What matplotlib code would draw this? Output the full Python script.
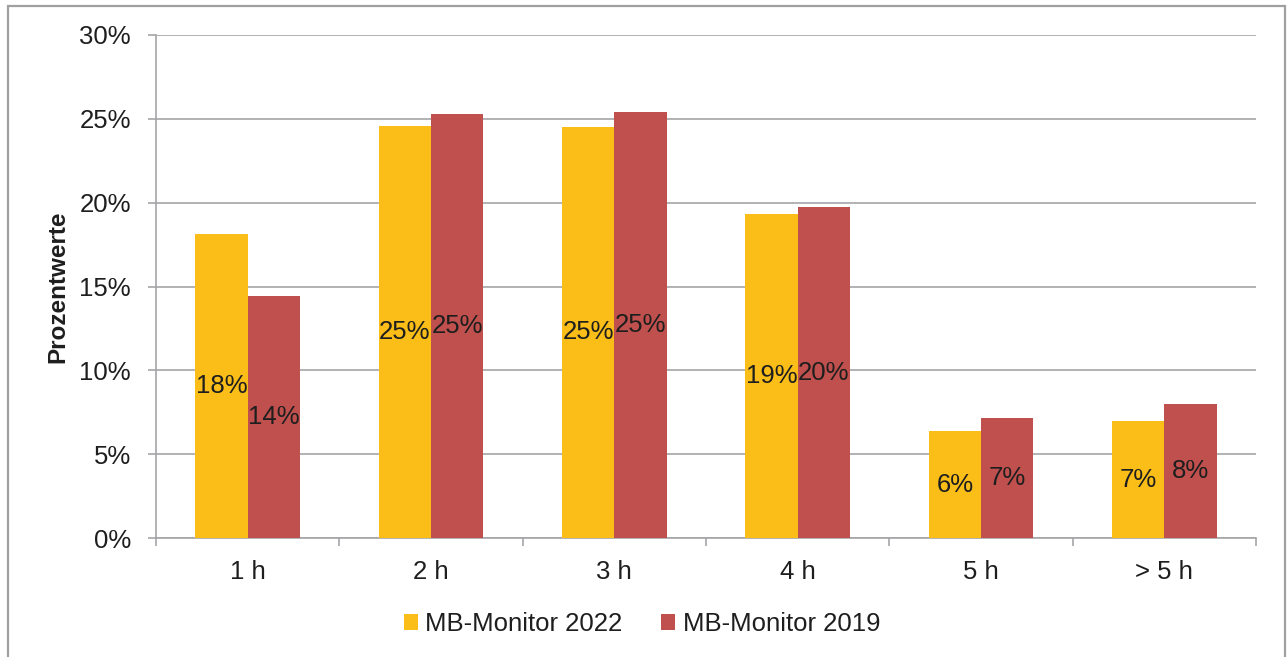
import matplotlib
matplotlib.use("Agg")
import matplotlib.pyplot as plt
from matplotlib.patches import Rectangle
import numpy as np

plt.rcParams["font.family"] = ["Liberation Sans", "DejaVu Sans"]

categories = ["1 h", "2 h", "3 h", "4 h", "5 h", "> 5 h"]
series_names = ["MB-Monitor 2022", "MB-Monitor 2019"]
values_2022 = [18.13, 24.58, 24.53, 19.32, 6.38, 6.95]
values_2019 = [14.43, 25.28, 25.39, 19.74, 7.15, 7.99]
y_ticks = [0, 5, 10, 15, 20, 25, 30]

color_2022 = "#FBBE18"
color_2019 = "#C0504D"
grid_color = "#A5A5A8"
text_color = "#1E1E1E"

W, H = 1288, 657
fig = plt.figure(figsize=(W / 100, H / 100), dpi=100)

# outer frame
fig.patches.append(Rectangle((7.5 / W, -0.05), (1285 - 7.5) / W, 1.05 - 6 / H,
                             transform=fig.transFigure, fill=False,
                             edgecolor="#A0A0A0", linewidth=1.6))

ax = fig.add_axes([156 / W, (H - 538) / H, 1100 / W, (538 - 35) / H])

x = np.arange(len(categories))
bw = 0.285
b1 = ax.bar(x - bw / 2, values_2022, width=bw, color=color_2022, zorder=3,
            label=series_names[0])
b2 = ax.bar(x + bw / 2, values_2019, width=bw, color=color_2019, zorder=3,
            label=series_names[1])

for xs, vals in ((x - bw / 2, values_2022), (x + bw / 2, values_2019)):
    for xi, v in zip(xs, vals):
        ax.text(xi, v / 2, f"{round(v):.0f}%", ha="center", va="center",
                fontsize=18.5, color=text_color, zorder=4)

ax.set_xlim(-0.5, len(categories) - 0.5)
ax.set_ylim(0, 30)
ax.set_yticks(y_ticks)
ax.set_yticklabels([f"{t}%" for t in y_ticks])
ax.yaxis.grid(True, color=grid_color, linewidth=1.2)
ax.set_axisbelow(True)

ax.set_xticks(x)
ax.set_xticklabels(categories)
ax.set_xticks(np.arange(-0.5, len(categories), 1.0), minor=True)
ax.tick_params(axis="x", which="major", length=0, pad=16, labelsize=18.5,
               labelcolor=text_color)
ax.tick_params(axis="x", which="minor", length=6, width=1.2, color=grid_color)
ax.tick_params(axis="y", length=6, width=1.2, color=grid_color, pad=12,
               labelsize=18.5, labelcolor=text_color)

for s in ("top", "right"):
    ax.spines[s].set_visible(False)
for s in ("left", "bottom"):
    ax.spines[s].set_color(grid_color)
    ax.spines[s].set_linewidth(1.2)

fig.text(58 / W, 1 - 286.5 / H, "Prozentwerte", rotation=90, ha="center",
         va="center", fontsize=17.5, fontweight="bold", color=text_color)

fig.legend(handles=[b1, b2], labels=series_names, loc="center",
           bbox_to_anchor=(642 / W, 1 - 624 / H), ncol=2, frameon=False,
           fontsize=18.5, handlelength=0.55, handleheight=0.55,
           handletextpad=0.3, columnspacing=1.5, labelcolor=text_color)

fig.savefig("out.png", dpi=100)
